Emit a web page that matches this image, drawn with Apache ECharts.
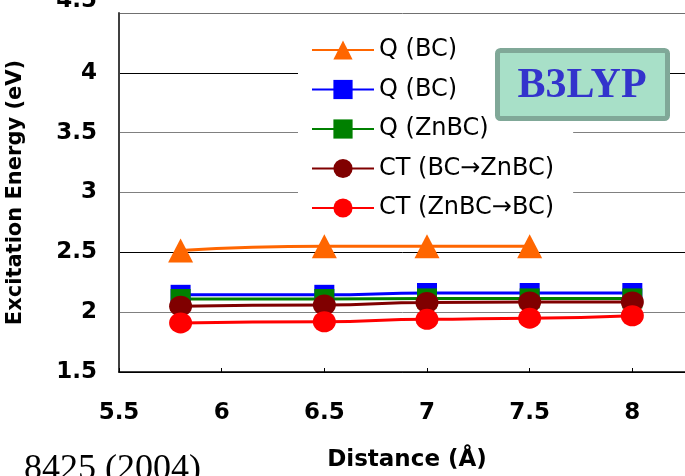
<!DOCTYPE html>
<html>
<head>
<meta charset="utf-8">
<script src="https://cdn.jsdelivr.net/npm/echarts@6/dist/echarts.min.js"></script>
<style>
html,body{margin:0;padding:0;background:#fff;}
#chart{width:685px;height:476px;}
</style>
</head>
<body>
<div id="chart"></div>
<script>
// ---- data ----
const distances = [5.8, 6.5, 7.0, 7.5, 8.0];
const qBCOrange = [2.515, 2.55, 2.55, 2.55];
const qBCBlue = [2.145, 2.145, 2.16, 2.16, 2.16];
const qZnBC = [2.11, 2.11, 2.115, 2.115, 2.115];
const ctBCtoZnBC = [2.05, 2.06, 2.08, 2.085, 2.085];
const ctZnBCtoBC = [1.91, 1.92, 1.94, 1.95, 1.97];
const seriesNames = ['Q (BC)', 'Q (BC) ', 'Q (ZnBC)', 'CT (BC\u2192ZnBC)', 'CT (ZnBC\u2192BC)'];
const xTickMin = 5.5, xTickMax = 8.5, xTickStep = 0.5;
const yTickMin = 1.5, yTickMax = 4.5, yTickStep = 0.5;

function pairs(xs, ys) { return ys.map((y, i) => [xs[i], y]); }

const bold = 'DejaVu Sans';
const chart = echarts.init(document.getElementById('chart'), null, {renderer: 'canvas'});

function mkSeries(name, data, color, symbol, size) {
  return {
    name: name, type: 'line', data: data,
    smooth: 0.5, smoothMonotone: 'x',
    symbol: symbol, symbolSize: size, showAllSymbol: true,
    lineStyle: {color: color, width: 3},
    itemStyle: {color: color, borderWidth: 0},
    emphasis: {disabled: true},
    animation: false
  };
}

chart.setOption({
  animation: false,
  backgroundColor: '#fff',
  grid: {left: 119, right: -50, top: 13, bottom: 104, containLabel: false, outerBoundsMode: 'none'},
  xAxis: {
    type: 'value', min: xTickMin, max: xTickMax, interval: xTickStep,
    name: 'Distance (\u00C5)', nameLocation: 'middle', nameGap: 77,
    nameTextStyle: {fontFamily: bold, fontWeight: 'bold', fontSize: 23, color: '#000', padding: [0, 40, 0, 0]},
    axisLine: {show: true, onZero: false, lineStyle: {color: '#000', width: 1.5}},
    axisTick: {show: true, inside: true, length: 4, lineStyle: {color: '#000'}},
    axisLabel: {fontFamily: bold, fontWeight: 'bold', fontSize: 23, color: '#000', margin: 30, hideOverlap: false},
    splitLine: {show: false}
  },
  yAxis: {
    type: 'value', min: yTickMin, max: yTickMax, interval: yTickStep,
    name: 'Excitation Energy (eV)', nameLocation: 'middle', nameGap: 93,
    nameTextStyle: {fontFamily: bold, fontWeight: 'bold', fontSize: 21, color: '#000'},
    axisLine: {show: true, lineStyle: {color: '#404040', width: 2}},
    axisTick: {show: false},
    axisLabel: {
      fontFamily: bold, fontWeight: 'bold', fontSize: 23, color: '#000', margin: 22,
      formatter: function (v) { return v === yTickMax ? '{t|' + v + '}' : String(v); },
      rich: {t: {fontFamily: bold, fontWeight: 'bold', fontSize: 23, color: '#000', padding: [0, 0, 24, 0]}}
    },
    splitLine: {show: true, lineStyle: {color: ['#000', '#808080', '#000', '#808080', '#808080', '#000', '#707070'], width: 1}}
  },
  legend: {
    orient: 'vertical', left: 298, top: 31,
    backgroundColor: '#fff',
    padding: [7, 19, 8, 13],
    itemWidth: 62, itemHeight: 24, itemGap: 15.5,
    textStyle: {fontFamily: 'DejaVu Sans', fontSize: 24, color: '#000', lineHeight: 24},
    selectedMode: false,
    data: seriesNames
  },
  series: [
    mkSeries(seriesNames[0], pairs(distances, qBCOrange), '#FF6600', 'triangle', [25, 24]),
    mkSeries(seriesNames[1], pairs(distances, qBCBlue), '#0000FF', 'rect', [20, 20]),
    mkSeries(seriesNames[2], pairs(distances, qZnBC), '#008000', 'rect', [20, 20]),
    mkSeries(seriesNames[3], pairs(distances, ctBCtoZnBC), '#800000', 'circle', [23, 21]),
    mkSeries(seriesNames[4], pairs(distances, ctZnBCtoBC), '#FF0000', 'circle', [23, 21])
  ],
  graphic: [
    {type: 'rect', z: 100, shape: {x: 497.5, y: 50.5, width: 170, height: 68, r: 3},
     style: {fill: '#A8E0C8', stroke: '#80A898', lineWidth: 5}},
    {type: 'text', z: 101, x: 582, y: 86,
     style: {text: 'B3LYP', font: 'bold 42px "Liberation Serif"', fill: '#3333CC', align: 'center', verticalAlign: 'middle'}},
    {type: 'text', z: 101, x: 24, y: 470,
     style: {text: '8425 (2004)', font: '36px "Liberation Serif"', fill: '#000', align: 'left', verticalAlign: 'middle'}}
  ]
});
</script>
</body>
</html>
